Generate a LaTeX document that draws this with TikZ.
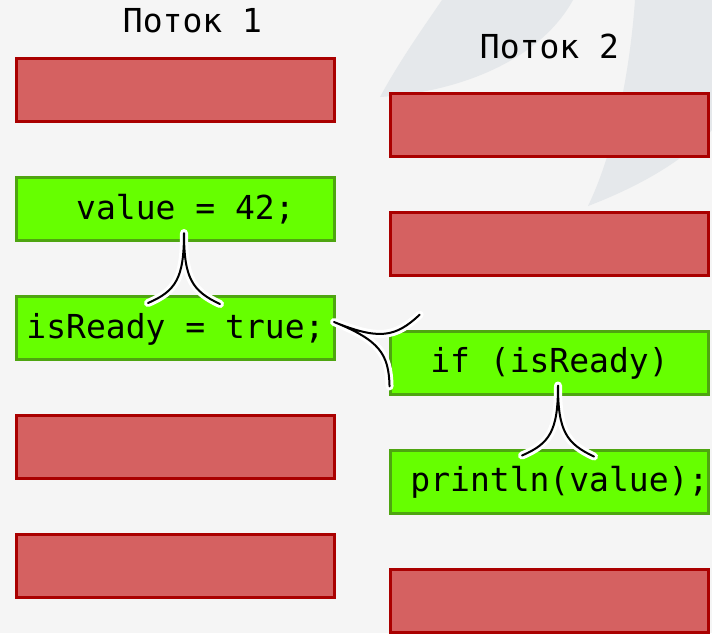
\documentclass[tikz,border=0pt]{standalone}
\usepackage{fontspec}
\setmonofont{DejaVu Sans Mono}
\usetikzlibrary{positioning}
\definecolor{bgcol}{RGB}{245,245,245}
\definecolor{swoosh}{RGB}{229,232,235}
\definecolor{idlefill}{RGB}{213,97,97}
\definecolor{idleline}{RGB}{170,0,0}
\definecolor{workfill}{RGB}{102,255,0}
\definecolor{workline}{RGB}{78,165,16}

\begin{document}
\begin{tikzpicture}[x=1pt,y=-1pt]
\tikzstyle{block}=[
	rectangle,
	line width=3pt,
	minimum width=318pt,
	minimum height=63pt,
	inner sep=0pt,
	font=\ttfamily\fontsize{33}{40}\selectfont,
	text height=24pt,
	text depth=4pt ]
\tikzstyle{idle}=[block, draw=idleline, fill=idlefill]
\tikzstyle{work}=[block, draw=workline, fill=workfill]
\tikzstyle{threadname}=[font=\ttfamily\fontsize{33}{40}\selectfont, anchor=base, inner sep=0pt]
\tikzstyle{hbline}=[draw=black, line width=2pt, line cap=round,
	preaction={draw=white, line width=8pt, line cap=round}]
\tikzset{hb/.pic={
	\draw[hbline] (0,0) .. controls (0,45) and (-8,58) .. (-36,70)
		(0,0) .. controls (0,45) and (8,58) .. (36,71);
}}
\useasboundingbox (0,0) rectangle (712,633);
\fill[bgcol] (0,0) rectangle (712,633);
\fill[swoosh] (380,97) .. controls (400,60) and (425,25) .. (442,0)
	-- (573,0) .. controls (540,60) and (460,92) .. cycle;
\fill[swoosh] (635,0) .. controls (630,70) and (615,150) .. (588,206)
	.. controls (630,190) and (680,165) .. (712,130) -- (712,0) -- cycle;

\node[threadname] (t1) at (192.5,32) {Поток 1};
\node[threadname] (t2) at (549.5,58) {Поток 2};

\node[idle] (a1) at (175.5,90) {};
\node[work, below=53pt of a1] (val) {~value = 42;};
\node[work, below=53pt of val] (ready) {isReady = true;};
\node[idle, below=53pt of ready] (a4) {};
\node[idle, below=53pt of a4] (a5) {};

\node[idle] (b1) at (549.5,124.5) {};
\node[idle, below=53pt of b1] (b2) {};
\node[work, below=53pt of b2] (check) {if (isReady)};
\node[work, below=53pt of check] (print) {~println(value);};
\node[idle, below=53pt of print] (b5) {};

\path ([shift={(8.5,-9)}]val.south) pic {hb};
\path ([shift={(-2,-6)}]ready.east) pic[rotate=68, scale=1.08] {hb};
\path ([shift={(8.5,-10)}]check.south) pic {hb};
\end{tikzpicture}
\end{document}
